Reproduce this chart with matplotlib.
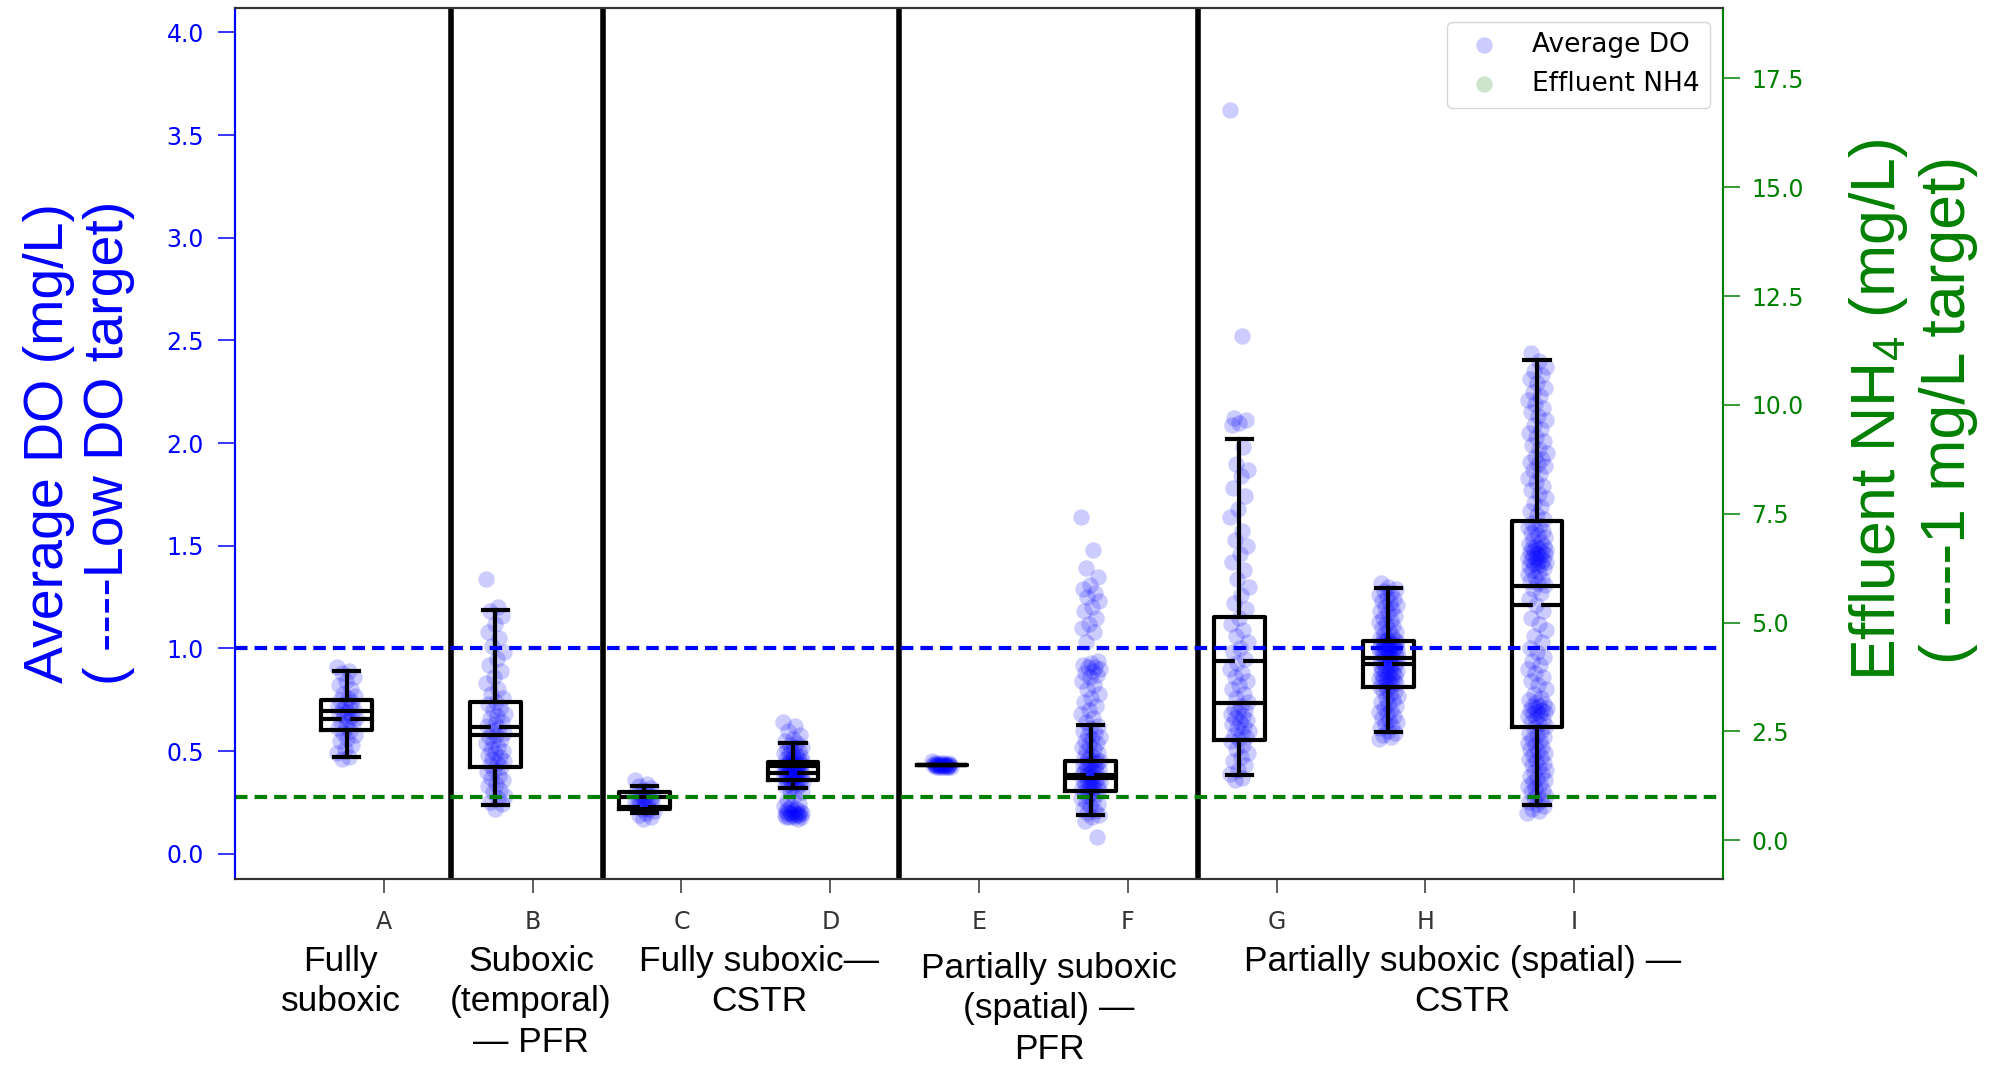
import numpy as np
import matplotlib
matplotlib.use('Agg')
import matplotlib.pyplot as plt

# ---- data ----
labels = ['A', 'B', 'C', 'D', 'E', 'F', 'G', 'H', 'I']
groups = ['Fully\nsuboxic', 'Suboxic\n(temporal)\n\u2014 PFR', 'Fully suboxic\u2014\nCSTR',
          'Partially suboxic\n(spatial) \u2014\nPFR', 'Partially suboxic (spatial) \u2014\nCSTR']

do_A = [0.91, 0.89, 0.88, 0.86, 0.84, 0.82, 0.80, 0.78, 0.77, 0.76, 0.75, 0.74, 0.73, 0.72,
        0.71, 0.70, 0.70, 0.69, 0.68, 0.67, 0.67, 0.66, 0.65, 0.64, 0.63, 0.62, 0.61, 0.60,
        0.59, 0.58, 0.56, 0.55, 0.53, 0.51, 0.49, 0.47, 0.46]
do_B = [1.34, 1.20, 1.18, 1.16, 1.12, 1.08, 1.05, 1.01, 0.98, 0.95, 0.92, 0.89, 0.86, 0.83,
        0.80, 0.78, 0.76, 0.74, 0.73, 0.71, 0.70, 0.68, 0.67, 0.66, 0.64, 0.63, 0.62, 0.61,
        0.60, 0.59, 0.58, 0.57, 0.56, 0.55, 0.54, 0.52, 0.51, 0.50, 0.49, 0.48, 0.47, 0.46,
        0.45, 0.44, 0.43, 0.42, 0.41, 0.40, 0.38, 0.37, 0.36, 0.34, 0.33, 0.31, 0.30, 0.28,
        0.27, 0.25, 0.24, 0.22]
do_C = [0.36, 0.34, 0.33, 0.32, 0.31, 0.30, 0.29, 0.29, 0.28, 0.27, 0.27, 0.26, 0.26, 0.25,
        0.25, 0.24, 0.24, 0.23, 0.23, 0.22, 0.22, 0.21, 0.20, 0.19, 0.18, 0.17]
do_D = [0.64, 0.62, 0.60, 0.58, 0.56, 0.55, 0.54, 0.53, 0.52, 0.52, 0.51, 0.50, 0.50, 0.49,
        0.48, 0.48, 0.47, 0.47, 0.46, 0.46, 0.45, 0.45, 0.45, 0.44, 0.44, 0.44, 0.43, 0.43,
        0.43, 0.43, 0.42, 0.42, 0.42, 0.42, 0.41, 0.41, 0.41, 0.41, 0.40, 0.40, 0.40, 0.40,
        0.39, 0.39, 0.39, 0.39, 0.38, 0.38, 0.38, 0.37, 0.37, 0.37, 0.36, 0.36, 0.36, 0.35,
        0.35, 0.34, 0.34, 0.33, 0.33, 0.32, 0.31, 0.30, 0.28, 0.26, 0.24, 0.23, 0.23, 0.22,
        0.22, 0.21, 0.21, 0.21, 0.20, 0.20, 0.20, 0.20, 0.20, 0.19, 0.19, 0.19, 0.19, 0.18,
        0.18, 0.18, 0.18, 0.17]
do_E = [0.45, 0.44, 0.44, 0.44, 0.44, 0.44, 0.43, 0.43, 0.43, 0.43, 0.43, 0.43, 0.43, 0.43,
        0.43, 0.43, 0.43, 0.43, 0.43, 0.42, 0.42, 0.42, 0.42, 0.42, 0.42, 0.42]
do_F = [1.64, 1.48, 1.39, 1.35, 1.31, 1.29, 1.27, 1.25, 1.23, 1.20, 1.18, 1.15, 1.12, 1.10,
        1.08, 1.03, 0.94, 0.93, 0.92, 0.91, 0.91, 0.90, 0.89, 0.88, 0.87, 0.86, 0.84, 0.82,
        0.80, 0.78, 0.76, 0.74, 0.72, 0.70, 0.68, 0.66, 0.64, 0.62, 0.61, 0.60, 0.59, 0.58,
        0.57, 0.56, 0.55, 0.54, 0.53, 0.52, 0.51, 0.50, 0.49, 0.48, 0.47, 0.46, 0.46, 0.45,
        0.45, 0.44, 0.44, 0.43, 0.43, 0.42, 0.42, 0.41, 0.41, 0.40, 0.40, 0.39, 0.39, 0.38,
        0.38, 0.37, 0.37, 0.36, 0.36, 0.35, 0.35, 0.34, 0.34, 0.33, 0.33, 0.32, 0.32, 0.31,
        0.31, 0.30, 0.30, 0.29, 0.28, 0.27, 0.26, 0.25, 0.24, 0.23, 0.22, 0.21, 0.20, 0.19,
        0.18, 0.16, 0.08]
do_G = [3.62, 2.52, 2.12, 2.11, 2.10, 2.09, 1.98, 1.90, 1.87, 1.84, 1.78, 1.74, 1.68, 1.64,
        1.57, 1.53, 1.50, 1.46, 1.42, 1.38, 1.34, 1.30, 1.26, 1.22, 1.19, 1.15, 1.12, 1.09,
        1.06, 1.03, 1.00, 0.98, 0.95, 0.93, 0.90, 0.88, 0.86, 0.84, 0.82, 0.80, 0.78, 0.76,
        0.74, 0.72, 0.71, 0.70, 0.69, 0.68, 0.67, 0.66, 0.65, 0.64, 0.63, 0.62, 0.61, 0.60,
        0.59, 0.58, 0.57, 0.56, 0.55, 0.53, 0.51, 0.49, 0.47, 0.45, 0.43, 0.41, 0.39, 0.37,
        0.36]
do_H = [0.56, 0.57, 0.58, 0.59, 0.60, 0.61, 0.62, 0.63, 0.64, 0.65, 0.66, 0.67, 0.68, 0.69,
        0.70, 0.71, 0.72, 0.73, 0.74, 0.75, 0.76, 0.77, 0.78, 0.79, 0.79, 0.80, 0.81,
        0.82, 0.82, 0.83, 0.83, 0.84, 0.84, 0.85, 0.85, 0.86, 0.86, 0.87, 0.87, 0.88, 0.88,
        0.89, 0.89, 0.90, 0.90, 0.91, 0.91, 0.92, 0.92, 0.93, 0.93, 0.94, 0.94, 0.95,
        0.96, 0.96, 0.96, 0.97, 0.97, 0.97, 0.98, 0.98, 0.98, 0.99, 0.99, 0.99, 1.00, 1.00,
        1.00, 1.01, 1.01, 1.01, 1.02, 1.02, 1.02, 1.03, 1.03, 1.03, 1.04, 1.04, 1.04,
        1.05, 1.06, 1.07, 1.08, 1.09, 1.10, 1.11, 1.12, 1.13, 1.14, 1.15, 1.16, 1.17, 1.18,
        1.19, 1.20, 1.21, 1.22, 1.23, 1.24, 1.25, 1.26, 1.27, 1.28, 1.29, 1.30, 1.32]
do_I = [0.20, 0.21, 0.22, 0.23, 0.24, 0.25, 0.26, 0.27, 0.28, 0.29, 0.30, 0.31, 0.32, 0.33,
        0.34, 0.35, 0.36, 0.37, 0.38, 0.39, 0.40, 0.41, 0.42, 0.43, 0.44, 0.45, 0.46, 0.47,
        0.48, 0.49, 0.50, 0.51, 0.52, 0.53, 0.54, 0.55, 0.56, 0.57, 0.58, 0.59, 0.60, 0.61,
        0.62, 0.63, 0.64, 0.65, 0.66, 0.67, 0.68, 0.68, 0.69, 0.69, 0.70, 0.70, 0.71, 0.71,
        0.72, 0.72, 0.73, 0.74, 0.75, 0.76, 0.78, 0.80, 0.82, 0.84, 0.86, 0.88, 0.90, 0.92,
        0.94, 0.96, 0.98, 1.00, 1.03, 1.06, 1.09, 1.12, 1.15, 1.18, 1.21, 1.24, 1.27, 1.29,
        1.31, 1.32, 1.33, 1.34, 1.35, 1.36, 1.37, 1.38, 1.39, 1.40, 1.40, 1.41, 1.41, 1.42,
        1.42, 1.43, 1.43, 1.44, 1.44, 1.45, 1.45, 1.46, 1.46, 1.47, 1.47, 1.48, 1.48, 1.49,
        1.49, 1.50, 1.50, 1.51, 1.52, 1.53, 1.54, 1.55, 1.56, 1.57, 1.58, 1.59, 1.60, 1.61,
        1.63, 1.65, 1.67, 1.69, 1.71, 1.73, 1.75, 1.77, 1.79, 1.81, 1.83, 1.85, 1.87, 1.89,
        1.90, 1.91, 1.92, 1.93, 1.95, 1.97, 1.99, 2.01, 2.03, 2.05, 2.07, 2.09, 2.11, 2.13,
        2.15, 2.17, 2.19, 2.21, 2.23, 2.25, 2.27, 2.29, 2.31, 2.33, 2.35, 2.37, 2.40, 2.44]
do_vals = [do_A, do_B, do_C, do_D, do_E, do_F, do_G, do_H, do_I]

# box statistics
box_whislo = [0.47, 0.238, 0.198, 0.318, 0.433, 0.188, 0.383, 0.591, 0.238]
box_q1 = [0.603, 0.420, 0.218, 0.360, 0.433, 0.307, 0.553, 0.810, 0.615]
box_med = [0.696, 0.578, 0.274, 0.428, 0.433, 0.367, 0.733, 0.955, 1.304]
box_mean = [0.655, 0.615, 0.229, 0.393, 0.433, 0.383, 0.939, 0.925, 1.212]
box_q3 = [0.749, 0.737, 0.299, 0.445, 0.433, 0.453, 1.153, 1.038, 1.620]
box_whishi = [0.888, 1.187, 0.331, 0.539, 0.433, 0.628, 2.018, 1.293, 2.405]

do_target = 1.0
nh4_target = 1.0

# ---- figure ----
plt.rcParams['font.family'] = ['DejaVu Sans']
plt.rcParams['mathtext.fontset'] = 'custom'
plt.rcParams['mathtext.rm'] = 'Liberation Sans'
txt_font = ['Liberation Sans', 'DejaVu Sans']

fig = plt.figure(figsize=(19.92, 10.71), dpi=100)
ax = fig.add_axes([0.118, 0.1793, 0.747, 0.8129])
ax2 = ax.twinx()

ticks = np.arange(1, len(labels) + 1)
pos = ticks - 0.25

# scattered DO points
for i, vals in enumerate(do_vals):
	n = len(vals)
	jit = ((np.arange(n) * 0.618034) % 1 - 0.5) * 0.13
	ax.scatter(pos[i] + jit, vals, s=140, color='blue', alpha=0.2, linewidths=0,
	           label='Average DO' if i == 0 else None, zorder=1)

stats = []
for i in range(len(labels)):
	stats.append(dict(whislo=box_whislo[i], q1=box_q1[i], med=box_med[i], mean=box_mean[i],
	                  q3=box_q3[i], whishi=box_whishi[i], fliers=[]))
lw = 3
ax.bxp(stats, positions=pos, widths=0.34, showmeans=True, meanline=True, showfliers=False,
       boxprops=dict(color='k', linewidth=lw), whiskerprops=dict(color='k', linewidth=lw),
       capprops=dict(color='k', linewidth=lw), medianprops=dict(color='k', linewidth=lw),
       meanprops=dict(color='k', linewidth=lw, linestyle=(0, (5, 2))), manage_ticks=False)

for x in [1.45, 2.47, 4.46, 6.47]:
	ax.axvline(x, color='k', linewidth=4, zorder=3)

ax.axhline(do_target, color='blue', linestyle=(0, (3, 1.7)), linewidth=3, zorder=4)
ax2.axhline(nh4_target, color='green', linestyle=(0, (3, 1.7)), linewidth=3)
ax2.scatter([], [], s=140, color='green', alpha=0.2, linewidths=0, label='Effluent NH4')

ax.set_xlim(0, 10)
ax.set_ylim(-0.123, 4.117)
ax2.set_ylim(-0.89, 19.11)
ax.set_xticks(ticks)
ax.set_xticklabels(labels)
ax.set_yticks(np.arange(0, 4.01, 0.5))
ax2.set_yticks(np.arange(0, 17.6, 2.5))

ax.tick_params(axis='y', colors='blue', labelsize=17, length=12.5, width=1.1, pad=10)
ax2.tick_params(axis='y', colors='green', labelsize=17, length=12, width=1.1, pad=8.5)
ax.tick_params(axis='x', colors='#333333', labelsize=17, length=10, width=1.1, pad=12)

for a in (ax, ax2):
	a.spines['left'].set_color('blue')
	a.spines['right'].set_color('green')
	a.spines['top'].set_color('#333333')
	a.spines['bottom'].set_color('#333333')
	for s in a.spines.values():
		s.set_linewidth(1.5)

h1, l1 = ax.get_legend_handles_labels()
h2, l2 = ax2.get_legend_handles_labels()
ax2.legend(h1 + h2, l1 + l2, loc='upper right', fontsize=19)

# axis titles
fig.text(0.0399, 0.5864, 'Average DO (mg/L)\n( ----Low DO target)', rotation=90,
         ha='center', va='center', multialignment='center', color='blue',
         fontsize=40, family=txt_font)
fig.text(0.960, 0.617, 'Effluent NH$_\\mathrm{4}$ (mg/L)\n( ----1 mg/L target)', rotation=90,
         ha='center', va='center', multialignment='center', color='green',
         fontsize=45, family=txt_font)

# group captions under the axis
grp_x = [0.171, 0.2666, 0.381, 0.5266, 0.734]
grp_y = [0.1176, 0.1176, 0.1176, 0.111, 0.1176]
for gx, gy, g in zip(grp_x, grp_y, groups):
	fig.text(gx, gy, g, ha='center', va='top', multialignment='center',
	         fontsize=25.5, family=txt_font, linespacing=1.28)

fig.savefig('out.png', dpi=100)
